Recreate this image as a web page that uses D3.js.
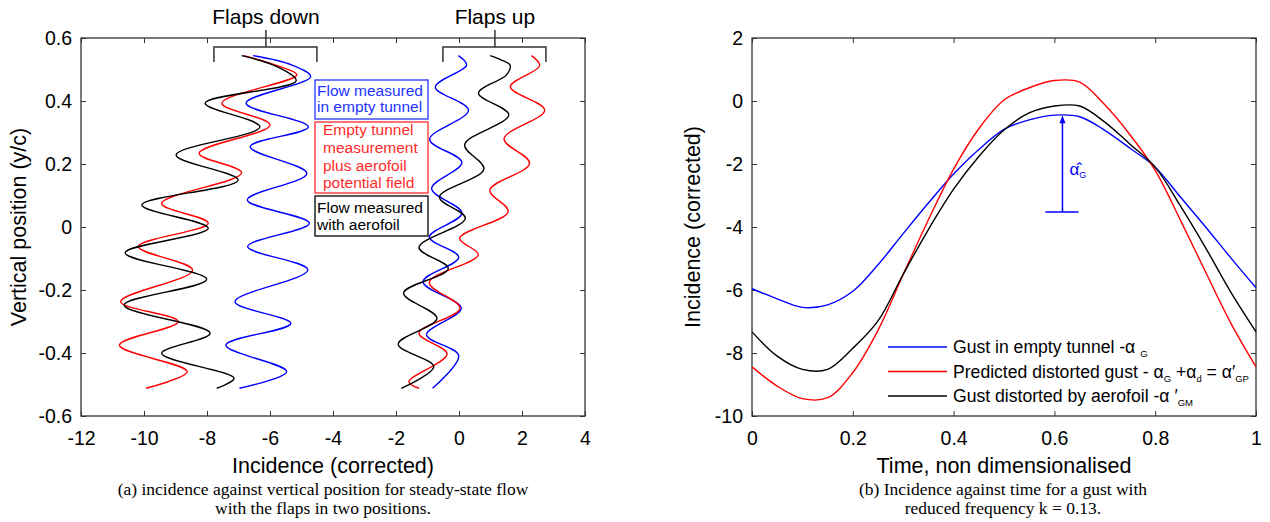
<!DOCTYPE html>
<html>
<head>
<meta charset="utf-8">
<script src="https://cdn.jsdelivr.net/npm/d3@7"></script>
<style>
  body { margin: 0; background: #fff; }
  svg { display: block; font-family: 'Liberation Sans', Arial, sans-serif; }
  .tick text { font-size: 19.5px; fill: #000; }
  .tick line { stroke: #333; }
  .caption { font-family: 'Liberation Serif', 'Times New Roman', serif; font-size: 17.5px; }
</style>
</head>
<body>
<div id="chart"></div>
<script>
// LEFT PANEL: [vertical position y/c, incidence]
const downBlue = [[0.544,-6.54],[0.514,-5.3],[0.477,-4.71],[0.393,-6.76],[0.318,-4.78],[0.255,-6.63],[0.170,-4.83],[0.086,-6.72],[0.012,-4.75],[-0.062,-6.71],[-0.136,-4.80],[-0.237,-7.11],[-0.306,-5.34],[-0.375,-7.40],[-0.459,-5.47],[-0.512,-6.97]]
const downRed = [[0.544,-6.83],[0.51,-5.7],[0.483,-5.15],[0.393,-7.53],[0.324,-6.0],[0.234,-8.25],[0.172,-6.90],[0.075,-9.44],[0.012,-7.96],[-0.062,-10.18],[-0.137,-8.46],[-0.237,-10.74],[-0.300,-8.91],[-0.375,-10.78],[-0.459,-8.63],[-0.512,-9.94]]
const downBlack = [[0.544,-6.90],[0.51,-5.8],[0.464,-5.17],[0.393,-8.06],[0.318,-6.32],[0.229,-8.98],[0.149,-7.01],[0.070,-10.07],[-0.004,-7.96],[-0.082,-10.60],[-0.166,-8.01],[-0.248,-10.63],[-0.337,-7.90],[-0.401,-9.44],[-0.480,-7.14],[-0.512,-7.69]]
const upBlue = [[0.544,-0.02],[0.514,0.24],[0.444,-0.75],[0.371,0.30],[0.278,-0.93],[0.205,0.09],[0.122,-0.87],[0.044,0.09],[-0.032,-0.94],[-0.096,-0.01],[-0.174,-1.14],[-0.258,0.07],[-0.342,-1.03],[-0.408,-0.01],[-0.512,-0.84]]
const upRed = [[0.544,2.30],[0.512,2.56],[0.445,1.63],[0.371,2.72],[0.280,1.43],[0.202,2.24],[0.117,0.98],[0.049,1.56],[-0.036,0.02],[-0.088,0.61],[-0.176,-0.94],[-0.258,0.03],[-0.337,-1.27],[-0.403,-0.38],[-0.491,-1.59],[-0.512,-1.27]]
const upBlack = [[0.544,0.99],[0.530,1.35],[0.514,1.62],[0.483,1.51],[0.425,0.62],[0.356,1.58],[0.261,0.18],[0.184,0.79],[0.095,-0.62],[0.028,0.20],[-0.065,-1.27],[-0.132,-0.34],[-0.210,-1.76],[-0.290,-0.70],[-0.372,-1.93],[-0.443,-0.80],[-0.512,-1.83]]

const xTicksL = [-12, -10, -8, -6, -4, -2, 0, 2, 4]
const yTicksL = [-0.6, -0.4, -0.2, 0, 0.2, 0.4, 0.6]
// brackets: [left, centre, right] incidence
const bracketDown = [-7.78, -6.13, -4.51]
const bracketUp = [-0.51, 1.14, 2.76]

// RIGHT PANEL: incidence against time
const time = [0,0.05,0.1,0.15,0.2,0.25,0.3,0.35,0.4,0.45,0.5,0.55,0.6,0.65,0.7,0.75,0.8,0.85,0.9,0.95,1]
const gustEmpty = [-5.96,-6.28,-6.55,-6.47,-6.04,-5.2,-4.21,-3.24,-2.32,-1.54,-0.9,-0.6,-0.45,-0.5,-0.93,-1.5,-2.1,-3.05,-4.0,-4.98,-5.93]
const gustPredicted = [-8.44,-9.05,-9.45,-9.42,-8.62,-7.28,-5.51,-3.77,-2.16,-0.88,0.03,0.42,0.65,0.6,-0.12,-1.07,-2.2,-3.78,-5.43,-7.05,-8.44]
const gustMeasured = [-7.33,-8.1,-8.52,-8.52,-7.85,-6.98,-5.5,-4.08,-2.8,-1.76,-0.92,-0.38,-0.16,-0.16,-0.67,-1.37,-2.1,-3.33,-4.66,-6.07,-7.33]
const xTicksR = [0, 0.2, 0.4, 0.6, 0.8, 1]
const yTicksR = [-10, -8, -6, -4, -2, 0, 2]
// amplitude marker: time, base, peak
const ampMark = [0.616, -3.52, -0.45]

const width = 1270
const height = 522
const plotTop = 38
const plotBottom = 416

const svg = d3.select('#chart')
  .append('svg')
  .attr('width', width)
  .attr('height', height)

const xL = d3.scaleLinear().domain([-12, 4]).range([81, 585])
const yL = d3.scaleLinear().domain([-0.6, 0.6]).range([plotBottom, plotTop])
const xR = d3.scaleLinear().domain([0, 1]).range([752, 1256])
const yR = d3.scaleLinear().domain([-10, 2]).range([plotBottom, plotTop])

const fmt = d => String(+d.toFixed(1))

function frame(x, y, xt, yt) {
  const [x0, x1] = x.range()
  svg.append('g').attr('transform', 'translate(0,' + plotBottom + ')')
    .call(d3.axisBottom(x).tickValues(xt).tickFormat(fmt).tickSizeInner(-5).tickSizeOuter(0).tickPadding(15))
  svg.append('g').attr('transform', 'translate(0,' + plotTop + ')')
    .call(d3.axisTop(x).tickValues(xt).tickFormat('').tickSizeInner(-5).tickSizeOuter(0))
  svg.append('g').attr('transform', 'translate(' + x0 + ',0)')
    .call(d3.axisLeft(y).tickValues(yt).tickFormat(fmt).tickSizeInner(-5).tickSizeOuter(0).tickPadding(9))
  svg.append('g').attr('transform', 'translate(' + x1 + ',0)')
    .call(d3.axisRight(y).tickValues(yt).tickFormat('').tickSizeInner(-5).tickSizeOuter(0))
  svg.selectAll('.domain').remove()
  svg.append('rect')
    .attr('x', x0).attr('y', plotTop)
    .attr('width', x1 - x0).attr('height', plotBottom - plotTop)
    .attr('fill', 'none').attr('stroke', '#333').attr('stroke-width', 1.3)
}

frame(xL, yL, xTicksL, yTicksL)
frame(xR, yR, xTicksR, yTicksR)

// LEFT CURVES
const lineL = d3.line()
  .x(d => xL(d[1]))
  .y(d => yL(d[0]))
  .curve(d3.curveCatmullRom.alpha(0.5))

const leftSeries = [
  [downBlue, '#0000ff'], [downRed, '#ff0000'], [downBlack, '#000'],
  [upBlue, '#0000ff'], [upRed, '#ff0000'], [upBlack, '#000']
]
leftSeries.forEach(([data, colour]) => {
  svg.append('path')
    .datum(data)
    .attr('d', lineL)
    .attr('fill', 'none')
    .attr('stroke', colour)
    .attr('stroke-width', 1.4)
})

// brackets
function bracket(b, label) {
  const [l, c, r] = b.map(xL)
  svg.append('path')
    .attr('d', 'M' + l + ',' + (plotTop + 24) + 'V' + (plotTop + 9) + 'H' + r + 'V' + (plotTop + 24) +
      'M' + c + ',' + (plotTop + 9) + 'V' + (plotTop - 8))
    .attr('fill', 'none')
    .attr('stroke', '#333')
    .attr('stroke-width', 1.5)
  svg.append('text')
    .attr('x', c)
    .attr('y', 24)
    .attr('text-anchor', 'middle')
    .attr('font-size', 21)
    .text(label)
}
bracket(bracketDown, 'Flaps down')
bracket(bracketUp, 'Flaps up')

// boxed labels
const boxes = [
  { y: 80, h: 39, colour: '#2233ff', tx: 317, lines: ['Flow measured', 'in empty tunnel'], base: [96, 112] },
  { y: 122, h: 71, colour: '#ff2a2a', tx: 323, lines: ['Empty tunnel', 'measurement', 'plus aerofoil', 'potential field'], base: [135, 153, 171, 188] },
  { y: 196, h: 40, colour: '#000', tx: 317, lines: ['Flow measured', 'with aerofoil'], base: [213, 229.5] }
]
boxes.forEach(b => {
  svg.append('rect')
    .attr('x', 315).attr('y', b.y)
    .attr('width', 113).attr('height', b.h)
    .attr('fill', '#fff')
    .attr('stroke', b.colour)
    .attr('stroke-width', 1.3)
  b.lines.forEach((t, i) => {
    svg.append('text')
      .attr('x', b.tx)
      .attr('y', b.base[i])
      .attr('font-size', 15.5)
      .attr('fill', b.colour)
      .text(t)
  })
})

// RIGHT CURVES
const lineR = d3.line()
  .x((d, i) => xR(time[i]))
  .y(d => yR(d))
  .curve(d3.curveCatmullRom.alpha(0.5))

const rightSeries = [
  [gustEmpty, '#0000ff'], [gustPredicted, '#ff0000'], [gustMeasured, '#000']
]
rightSeries.forEach(([data, colour]) => {
  svg.append('path')
    .datum(data)
    .attr('d', lineR)
    .attr('fill', 'none')
    .attr('stroke', colour)
    .attr('stroke-width', 1.4)
})

// amplitude marker
const ax = xR(ampMark[0])
svg.append('line')
  .attr('x1', ax).attr('x2', ax)
  .attr('y1', yR(ampMark[1])).attr('y2', yR(ampMark[2]) + 4)
  .attr('stroke', '#0000ff').attr('stroke-width', 1.5)
svg.append('line')
  .attr('x1', ax - 17).attr('x2', ax + 16)
  .attr('y1', yR(ampMark[1])).attr('y2', yR(ampMark[1]))
  .attr('stroke', '#0000ff').attr('stroke-width', 1.5)
svg.append('path')
  .attr('d', 'M' + ax + ',' + yR(ampMark[2]) + 'l-3,8h6z')
  .attr('fill', '#0000ff')
const amp = svg.append('text')
  .attr('x', ax + 7).attr('y', 175)
  .attr('font-size', 17)
  .attr('fill', '#0000ff')
amp.append('tspan').text('α\u0302')
amp.append('tspan').attr('font-size', 9).attr('dy', 3).text('G')

// legend
const legend = [
  ['#0000ff', [['Gust in empty tunnel -α '], ['G', 1]]],
  ['#ff0000', [['Predicted distorted gust - α'], ['G', 1], [' +α', -1], ['d', 1], [' = α′', -1], ['GP', 1]]],
  ['#000', [['Gust distorted by aerofoil -α ′'], ['GM', 1]]]
]
legend.forEach(([colour, parts], i) => {
  const ly = 347 + i * 24.5
  svg.append('line')
    .attr('x1', 888).attr('x2', 947)
    .attr('y1', ly).attr('y2', ly)
    .attr('stroke', colour).attr('stroke-width', 1.4)
  const t = svg.append('text')
    .attr('x', 953).attr('y', ly + 6)
    .attr('font-size', 17.6)
  parts.forEach(([s, sub]) => {
    t.append('tspan')
      .attr('font-size', sub === 1 ? 9.5 : 17.6)
      .attr('dy', sub === 1 ? 4 : sub === -1 ? -4 : 0)
      .text(s)
  })
})

// axis titles
svg.append('text')
  .attr('x', 333).attr('y', 473)
  .attr('text-anchor', 'middle').attr('font-size', 21.5)
  .text('Incidence (corrected)')
svg.append('text')
  .attr('transform', 'translate(26,227) rotate(-90)')
  .attr('text-anchor', 'middle').attr('font-size', 21.5)
  .text('Vertical position (y/c)')
svg.append('text')
  .attr('x', 1004).attr('y', 473)
  .attr('text-anchor', 'middle').attr('font-size', 21.5)
  .text('Time, non dimensionalised')
svg.append('text')
  .attr('transform', 'translate(700,227) rotate(-90)')
  .attr('text-anchor', 'middle').attr('font-size', 21.5)
  .text('Incidence (corrected)')

// captions
const captions = [
  [323, ['(a) incidence against vertical position for steady-state flow', 'with the flaps in two positions.']],
  [1003, ['(b) Incidence against time for a gust with', 'reduced frequency k = 0.13.']]
]
captions.forEach(([cx, lines]) => {
  lines.forEach((l, i) => {
    svg.append('text')
      .attr('class', 'caption')
      .attr('x', cx).attr('y', 495 + i * 19)
      .attr('text-anchor', 'middle')
      .text(l)
  })
})
</script>
</body>
</html>
